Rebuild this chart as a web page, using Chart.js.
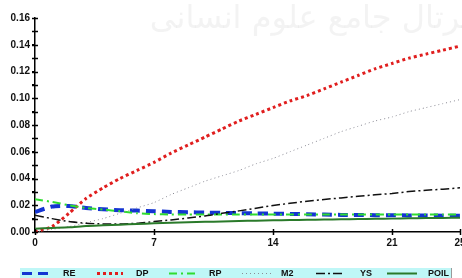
<!DOCTYPE html>
<html>
<head>
<meta charset="utf-8">
<script src="https://cdn.jsdelivr.net/npm/chart.js@4"></script>
<style>
html,body{margin:0;padding:0;background:#fff;}
#wrap{width:462px;height:278px;position:relative;}
</style>
</head>
<body>
<div id="wrap"><canvas id="c" width="462" height="278"></canvas></div>
<script>
const periods = [0,1,2,3,4,5,6,7,8,9,10,11,12,13,14,15,16,17,18,19,20,21,22,23,24,25];
const xTickValues = [0,7,14,21,25];
const seriesNames = ['RE','DP','RP','M2','YS','POIL'];
const RE = [0.015,0.019,0.0195,0.018,0.017,0.0163,0.016,0.0155,0.015,0.0148,0.0145,0.0143,0.0141,0.0139,0.0137,0.0135,0.0133,0.013,0.0128,0.0127,0.0126,0.0125,0.0124,0.0123,0.0122,0.0122];
const DP = [0,0.004,0.014,0.025,0.033,0.040,0.046,0.052,0.059,0.065,0.071,0.077,0.083,0.088,0.093,0.098,0.102,0.107,0.112,0.117,0.122,0.126,0.130,0.133,0.136,0.139];
const RP = [0.0245,0.0225,0.020,0.018,0.0168,0.0155,0.014,0.0134,0.0131,0.013,0.013,0.013,0.013,0.013,0.0131,0.0131,0.0131,0.0131,0.0131,0.0131,0.0131,0.0131,0.0131,0.0131,0.013,0.013];
const M2 = [0,0.002,0.004,0.007,0.010,0.014,0.018,0.022,0.028,0.033,0.038,0.042,0.046,0.051,0.055,0.060,0.065,0.070,0.075,0.079,0.083,0.086,0.090,0.093,0.096,0.099];
const YS = [0.0125,0.010,0.0078,0.0066,0.006,0.006,0.0066,0.0078,0.009,0.0105,0.012,0.014,0.0158,0.0178,0.0198,0.0215,0.023,0.0243,0.0255,0.0267,0.0278,0.0288,0.0302,0.0312,0.032,0.033];
const POIL = [0.0025,0.003,0.0035,0.0045,0.005,0.0055,0.006,0.0065,0.007,0.0073,0.0076,0.0079,0.0082,0.0085,0.0087,0.0089,0.0091,0.0093,0.0095,0.0097,0.0099,0.01,0.0102,0.0104,0.0105,0.0107];
const yMin = 0, yMax = 0.16, yStep = 0.01;
const watermarkText = 'پرتال جامع علوم انسانی';

const styles = [
  {color:'#1434d2', width:4, dash:[10,6]},
  {color:'#e01e1e', width:3, dash:[3,3]},
  {color:'#30dc30', width:2, dash:[8,4,2,4]},
  {color:'#8c8c96', width:1, dash:[1,3]},
  {color:'#101010', width:1.5, dash:[9,3,2,3]},
  {color:'#2a7a2a', width:2, dash:[]}
];
const allData = [RE,DP,RP,M2,YS,POIL];
const drawOrder = [5,4,3,2,1,0];

const datasets = drawOrder.map(i => ({
  label: seriesNames[i],
  data: periods.map((p,k)=>({x:p, y:allData[i][k]})),
  borderColor: styles[i].color,
  borderWidth: styles[i].width,
  borderDash: styles[i].dash,
  pointRadius: 0,
  fill: false,
  tension: 0.2
}));

const legendPos = [
  {sx:22, ex:52, lx:63},
  {sx:97, ex:123, lx:136},
  {sx:169, ex:199, lx:209},
  {sx:242, ex:272, lx:281},
  {sx:316, ex:343, lx:360},
  {sx:387, ex:417, lx:428}
];

const extras = {
  id:'extras',
  beforeDatasetsDraw(chart){
    const ctx = chart.ctx;
    ctx.save();
    ctx.fillStyle = 'rgba(200,200,200,0.22)';
    ctx.font = '32px "DejaVu Sans"';
    ctx.textAlign = 'center';
    ctx.textBaseline = 'middle';
    ctx.fillText(watermarkText, 310, 20);
    ctx.restore();
  },
  afterDraw(chart){
    const ctx = chart.ctx;
    const xs = chart.scales.x, ys = chart.scales.y;
    ctx.save();
    ctx.strokeStyle = '#000';
    ctx.lineWidth = 1.5;
    ys.ticks.forEach(t => {
      const y = Math.round(ys.getPixelForValue(t.value)) + 0.5;
      ctx.beginPath(); ctx.moveTo(xs.left - 3, y); ctx.lineTo(xs.left + 3, y); ctx.stroke();
    });
    xs.ticks.forEach(t => {
      const x = Math.round(xs.getPixelForValue(t.value)) + 0.5;
      ctx.beginPath(); ctx.moveTo(x, ys.bottom + 3); ctx.lineTo(x, ys.bottom - 3); ctx.stroke();
    });
    // legend
    ctx.lineWidth = 1;
    ctx.fillStyle = '#bff7f7';
    ctx.fillRect(20, 268, 432, 10);
    ctx.strokeStyle = '#9a9a9a';
    ctx.beginPath(); ctx.moveTo(451.5, 268); ctx.lineTo(451.5, 278); ctx.stroke();
    const cy = 273.5;
    ctx.font = 'bold 9px "Liberation Sans"';
    ctx.textBaseline = 'middle';
    ctx.textAlign = 'left';
    seriesNames.forEach((n,i) => {
      const p = legendPos[i], s = styles[i];
      ctx.strokeStyle = s.color;
      ctx.lineWidth = Math.min(s.width, 3);
      ctx.setLineDash(s.dash);
      ctx.beginPath(); ctx.moveTo(p.sx, cy); ctx.lineTo(p.ex, cy); ctx.stroke();
      ctx.setLineDash([]);
      ctx.fillStyle = '#111';
      ctx.fillText(n, p.lx, cy + 0.5);
    });
    ctx.restore();
  }
};

const tickFont = {family:'"Liberation Sans", Arial, sans-serif', size:10, weight:'bold'};

new Chart(document.getElementById('c'), {
  type:'line',
  data:{datasets},
  options:{
    responsive:false,
    animation:false,
    events:[],
    layout:{padding:{top:18, right:2, left:0, bottom:24}},
    plugins:{legend:{display:false}, tooltip:{enabled:false}},
    scales:{
      x:{
        type:'linear', min:0, max:25,
        afterBuildTicks(s){ s.ticks = xTickValues.map(v=>({value:v})); },
        afterFit(s){ s.height = 22; s.paddingLeft = 0; s.paddingRight = 0; },
        ticks:{color:'#111', font:tickFont, padding:2, maxRotation:0, autoSkip:false,
               callback:v=>String(v)},
        grid:{drawOnChartArea:false, tickLength:3, color:'#000', tickColor:'#000'},
        border:{color:'#000', width:1.5}
      },
      y:{
        type:'linear', min:yMin, max:yMax,
        ticks:{stepSize:yStep, color:'#111', font:tickFont, padding:2, autoSkip:false,
               callback:v=>{ const k = Math.round(v/yStep); return k%2===0 ? v.toFixed(2) : ''; }},
        afterFit(s){ s.width = 35; s.paddingTop = 0; s.paddingBottom = 0; },
        grid:{drawOnChartArea:false, tickLength:3, color:'#000', tickColor:'#000'},
        border:{color:'#000', width:1.5}
      }
    }
  },
  plugins:[extras]
});
</script>
</body>
</html>
